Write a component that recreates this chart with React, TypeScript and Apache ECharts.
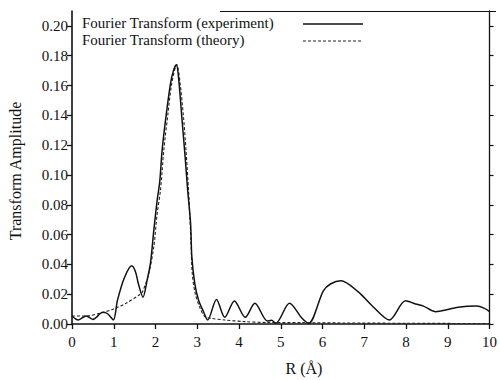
import React, { useEffect, useRef } from "react";
import * as echarts from "echarts";

const expR = [0.0, 0.15, 0.34, 0.5, 0.74, 0.86, 0.99, 1.09, 1.25, 1.43, 1.52, 1.59, 1.7, 1.8, 1.88, 1.96, 2.04, 2.1, 2.16, 2.25, 2.36, 2.43, 2.5, 2.55, 2.63, 2.71, 2.77, 2.84, 2.87, 2.94, 3.03, 3.15, 3.25, 3.46, 3.66, 3.89, 4.15, 4.38, 4.68, 4.78, 4.88, 5.21, 5.51, 5.67, 6.02, 6.2, 6.44, 6.85, 7.21, 7.6, 7.99, 8.23, 8.42, 8.7, 9.25, 9.69, 9.88, 10.0];
const expV = [0.0054, 0.0027, 0.0054, 0.0031, 0.0078, 0.0067, 0.0027, 0.016, 0.0307, 0.039, 0.035, 0.027, 0.018, 0.0295, 0.041, 0.063, 0.083, 0.095, 0.117, 0.139, 0.1615, 0.17, 0.174, 0.166, 0.139, 0.112, 0.09, 0.0676, 0.0452, 0.0273, 0.0161, 0.0082, 0.0027, 0.0165, 0.0045, 0.0154, 0.0045, 0.0139, 0.002, 0.0025, 0.0005, 0.0139, 0.0038, 0.0005, 0.0223, 0.027, 0.029, 0.0217, 0.0116, 0.0027, 0.0156, 0.0134, 0.012, 0.0083, 0.0112, 0.012, 0.0105, 0.0083];

const thR = [0.0, 0.35, 0.66, 0.98, 1.29, 1.61, 1.69, 1.84, 1.96, 2.04, 2.12, 2.2, 2.29, 2.39, 2.51, 2.59, 2.67, 2.73, 2.79, 2.85, 2.88, 2.95, 3.07, 3.18, 3.34, 3.66, 4.13, 4.68, 5.5, 6.5, 8.0, 10.0];
const thV = [0.0054, 0.0054, 0.0072, 0.0099, 0.0139, 0.0195, 0.0217, 0.034, 0.052, 0.074, 0.09, 0.117, 0.139, 0.1615, 0.174, 0.1615, 0.139, 0.117, 0.09, 0.056, 0.034, 0.0206, 0.0105, 0.005, 0.0038, 0.0027, 0.0016, 0.001, 0.0009, 0.0007, 0.0005, 0.0003];

const xTicks = [0, 1, 2, 3, 4, 5, 6, 7, 8, 9, 10];
const yTicks = [0, 0.02, 0.04, 0.06, 0.08, 0.1, 0.12, 0.14, 0.16, 0.18, 0.2];

const legendLabels = ["Fourier Transform (experiment)", "Fourier Transform (theory)"];
const xName = "R (Å)";
const yName = "Transform Amplitude";

const FONT = "Liberation Serif, serif";

export default function App() {
  const ref = useRef<HTMLDivElement>(null);
  useEffect(() => {
    if (!ref.current) return;
    const chart = echarts.init(ref.current, undefined, { renderer: "svg" });
    const expData = expR.map((r, i) => [r, expV[i]]);
    const thData = thR.map((r, i) => [r, thV[i]]);
    const axisLineStyle = { color: "#111", width: 1.6 };
    chart.setOption({
      animation: false,
      backgroundColor: "#ffffff",
      textStyle: { fontFamily: FONT },
      grid: { left: 72, right: 5, top: 11, bottom: 56, containLabel: false },
      xAxis: [
        {
          type: "value",
          min: 0,
          max: 10,
          interval: 1,
          position: "bottom",
          axisLine: { show: true, lineStyle: axisLineStyle },
          axisTick: { show: true, inside: false, length: 5, lineStyle: { color: "#111", width: 1.3 }, customValues: xTicks },
          axisLabel: { show: true, margin: 10, color: "#111", fontSize: 15, fontFamily: FONT, customValues: xTicks },
          splitLine: { show: false },
        },
      ],
      yAxis: [
        {
          type: "value",
          min: 0,
          max: 0.21,
          interval: 0.02,
          position: "left",
          axisLine: { show: true, lineStyle: axisLineStyle },
          axisTick: { show: true, inside: false, length: 5, lineStyle: { color: "#111", width: 1.3 }, customValues: yTicks },
          axisLabel: {
            show: true,
            margin: 4,
            color: "#111",
            fontSize: 15,
            fontFamily: FONT,
            customValues: yTicks,
            formatter: (v: number) => v.toFixed(2),
          },
          splitLine: { show: false },
        },
        {
          type: "value",
          min: 0,
          max: 0.21,
          interval: 0.02,
          position: "right",
          axisLine: { show: true, lineStyle: { color: "#111", width: 1.3 } },
          axisTick: { show: true, inside: false, length: 4, lineStyle: { color: "#111", width: 1.2 }, customValues: yTicks },
          axisLabel: { show: false },
          splitLine: { show: false },
        },
      ],
      series: [
        {
          name: legendLabels[0],
          type: "line",
          data: expData,
          showSymbol: false,
          smooth: 0.3,
          lineStyle: { color: "#111", width: 1.5 },
          z: 3,
        },
        {
          name: legendLabels[1],
          type: "line",
          data: thData,
          showSymbol: false,
          smooth: 0.3,
          lineStyle: { color: "#222", width: 1.1, type: [3, 2] },
          z: 2,
        },
      ],
      graphic: [
        { type: "line", shape: { x1: 220, y1: 11.5, x2: 496, y2: 11.5 }, style: { stroke: "#111", lineWidth: 1 } },
        {
          type: "text",
          left: 82,
          top: 15,
          style: { text: legendLabels[0], fontSize: 15, fontFamily: FONT, fill: "#111" },
        },
        {
          type: "text",
          left: 82,
          top: 32,
          style: { text: legendLabels[1], fontSize: 15, fontFamily: FONT, fill: "#111" },
        },
        { type: "line", shape: { x1: 303, y1: 24, x2: 363, y2: 24 }, style: { stroke: "#111", lineWidth: 1.5 } },
        { type: "line", shape: { x1: 303, y1: 41, x2: 361, y2: 41 }, style: { stroke: "#222", lineWidth: 1.1, lineDash: [3, 2] } },
        {
          type: "text",
          x: 304,
          y: 368,
          style: { text: xName, fontSize: 16, fontFamily: FONT, fill: "#111", align: "center", verticalAlign: "middle" },
        },
        {
          type: "text",
          x: 15,
          y: 171,
          rotation: Math.PI / 2,
          style: { text: yName, fontSize: 16, fontFamily: FONT, fill: "#111", align: "center", verticalAlign: "middle" },
        },
      ],
    });
    return () => chart.dispose();
  }, []);
  return <div ref={ref} style={{ width: 500, height: 380, position: "absolute", left: 0, top: 0 }} />;
}
